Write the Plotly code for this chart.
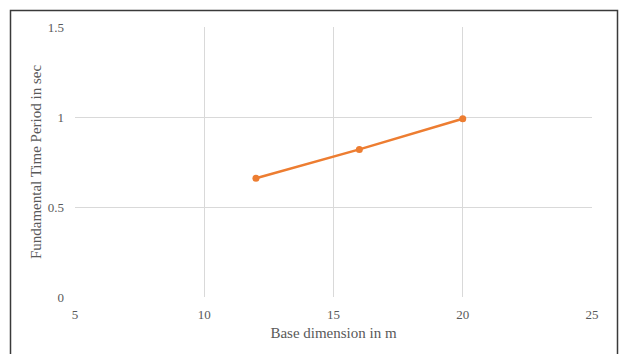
import plotly.graph_objects as go

# Base dimension (m) and fundamental time period (s)
base_dimension = [12, 16, 20]
time_period = [0.66, 0.82, 0.99]

x_ticks = [5, 10, 15, 20, 25]
y_ticks = [0, 0.5, 1, 1.5]
y_tick_text = ["0", "0.5", "1", "1.5"]

W, H = 619, 354
ml, mr, mt, mb = 75, 27, 27, 57
pw, ph = W - ml - mr, H - mt - mb

def px_to_paper_x(px):
    return (px - ml) / pw

def px_to_paper_y(py):
    return (H - mb - py) / ph

fig = go.Figure(
    go.Scatter(
        x=base_dimension,
        y=time_period,
        mode="lines+markers",
        line=dict(color="#ED7D31", width=2.5),
        marker=dict(color="#ED7D31", size=7),
        showlegend=False,
    )
)

font = dict(family="Liberation Serif, Times New Roman, serif", color="#595959")

fig.update_layout(
    width=W,
    height=H,
    margin=dict(l=ml, r=mr, t=mt, b=mb),
    paper_bgcolor="white",
    plot_bgcolor="white",
    font=font,
    xaxis=dict(
        range=[5, 25],
        tickvals=x_ticks,
        showgrid=True,
        gridcolor="#d9d9d9",
        gridwidth=1,
        zeroline=False,
        showline=False,
        ticks="",
        ticklabelstandoff=8,
        tickfont=dict(size=13, **font),
        title=dict(text="Base dimension in m", font=dict(size=15, **font), standoff=6),
    ),
    yaxis=dict(
        range=[0, 1.5],
        tickvals=y_ticks,
        ticktext=y_tick_text,
        showgrid=True,
        gridcolor="#d9d9d9",
        gridwidth=1,
        zeroline=False,
        showline=False,
        ticks="",
        ticklabelstandoff=10,
        tickfont=dict(size=13, **font),
        title=dict(text="Fundamental Time Period in sec", font=dict(size=15, **font), standoff=2),
    ),
    shapes=[
        # outer chart frame
        dict(
            type="rect",
            xref="paper",
            yref="paper",
            x0=px_to_paper_x(10.5),
            x1=px_to_paper_x(617.5),
            y0=px_to_paper_y(360),
            y1=px_to_paper_y(10.5),
            line=dict(color="#3a3a3a", width=1.5),
            fillcolor="rgba(0,0,0,0)",
            layer="above",
        ),
    ],
)

fig.write_html("out.html")
